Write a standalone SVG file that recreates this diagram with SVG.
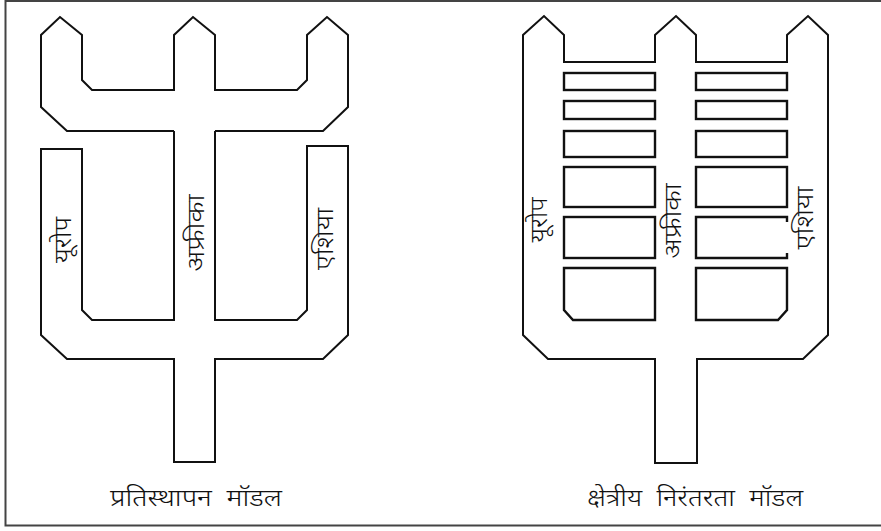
<svg xmlns="http://www.w3.org/2000/svg" width="881" height="531" viewBox="0 0 881 531">
<style>
.ln{fill:none;stroke:#111;stroke-width:2;stroke-linejoin:miter}
.bk{fill:none;stroke:#111;stroke-width:2.4}
.lb{font-family:"Noto Sans Devanagari","Noto Sans","Lohit Devanagari",sans-serif;font-size:24px;fill:#111;text-anchor:middle;dominant-baseline:central;font-weight:300}
.tt{font-family:"Noto Sans Devanagari","Noto Sans","Lohit Devanagari",sans-serif;font-size:24px;fill:#111;text-anchor:middle;font-weight:300}
</style>
<rect width="881" height="531" fill="#fff"/>
<path d="M900,1 L5.5,1 L5.5,525.5 L900,525.5" fill="none" stroke="#444" stroke-width="2"/>
<g id="replacement-model">
<path class="ln" d="M174,131 L67,131 L41,107 L41,35 L60,17 L82,35 L82,80 L92,90 L174,90 L174,35 L193,17 L215,35 L215,90 L297,90 L307,80 L307,35 L327,17 L348,35 L348,107 L323,131 L215,131"/>
<path class="ln" d="M174,131 L174,320 L92,320 L82,310 L82,149 L41,149 L41,335 L67,359 L174,359 L174,462 L215,462 L215,359 L323,359 L348,335 L348,146 L307,146 L307,310 L297,320 L215,320 L215,131"/>
<text class="lb" transform="translate(65,240) rotate(-90)" textLength="46" lengthAdjust="spacingAndGlyphs">यूरोप</text>
<text class="lb" transform="translate(198,233) rotate(-90)" textLength="77" lengthAdjust="spacingAndGlyphs">अफ्रीका</text>
<text class="lb" transform="translate(327,239) rotate(-90)" textLength="62" lengthAdjust="spacingAndGlyphs">एशिया</text>
<text class="tt" x="196" y="506" xml:space="preserve" textLength="172" lengthAdjust="spacingAndGlyphs">प्रतिस्थापन  मॉडल</text>
</g>
<g id="regional-continuity-model">
<path class="ln" d="M564,35 L544,16 L523,35 L523,335 L548,359 L655,359 L655,463 L697,463 L697,359 L803,359 L828,335 L828,35 L808,16 L787,35 L787,62 L696,62 L696,35 L676,16 L655,35 L655,62 L564,62 Z"/>
<rect class="bk" x="564" y="73" width="91" height="17"/>
<rect class="bk" x="696" y="73" width="91" height="17"/>
<rect class="bk" x="564" y="101" width="91" height="18"/>
<rect class="bk" x="696" y="101" width="91" height="18"/>
<rect class="bk" x="564" y="131" width="91" height="26"/>
<rect class="bk" x="696" y="131" width="91" height="26"/>
<rect class="bk" x="564" y="167" width="91" height="40"/>
<rect class="bk" x="696" y="167" width="91" height="40"/>
<rect class="bk" x="564" y="217" width="91" height="41"/>
<path class="bk" d="M787,222 L787,217 L696,217 L696,258 L787,258 L787,253"/>
<path class="bk" d="M564,268 L655,268 L655,320 L573,320 L564,310 Z"/>
<path class="bk" d="M696,268 L787,268 L787,310 L778,320 L696,320 Z"/>
<text class="lb" transform="translate(541,220) rotate(-90)" textLength="45" lengthAdjust="spacingAndGlyphs">यूरोप</text>
<text class="lb" transform="translate(675,221) rotate(-90)" textLength="75" lengthAdjust="spacingAndGlyphs">अफ्रीका</text>
<text class="lb" transform="translate(807,218) rotate(-90)" textLength="63" lengthAdjust="spacingAndGlyphs">एशिया</text>
<text class="tt" x="695" y="506" xml:space="preserve" textLength="216" lengthAdjust="spacingAndGlyphs">क्षेत्रीय  निरंतरता  मॉडल</text>
</g>
</svg>
